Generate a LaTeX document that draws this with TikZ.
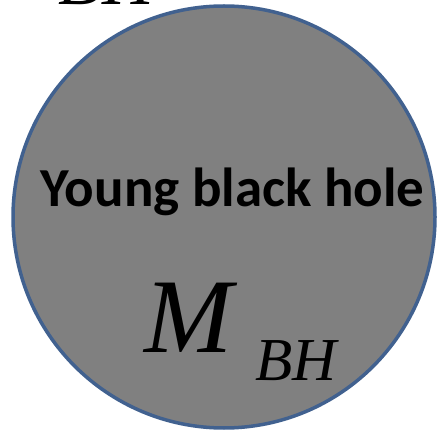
\documentclass[tikz,border=0pt]{standalone}
\usepackage{fontspec}
\setmainfont{Liberation Serif}
\newfontfamily\carl{Carlito}
\definecolor{rim}{HTML}{41618F}
\definecolor{fillg}{HTML}{808080}
\begin{document}
\begin{tikzpicture}[x=1pt,y=1pt,
  hole/.style={circle,draw=rim,line width=3.5pt,fill=fillg,minimum size=422pt,inner sep=0pt},
  lbl/.style={inner sep=0pt,anchor=base}]
\useasboundingbox (0,0) rectangle (441,431);
\clip (0,0) rectangle (441,431);
\node[hole] (bh) at (224,214) {};
\node[lbl,font=\carl\bfseries\fontsize{55}{60}\selectfont] (title) at (232.5,224) {Young black hole};
\node[lbl,font=\itshape\fontsize{106}{120}\selectfont] (m) at (189,79) {M};
\node[lbl,font=\itshape\fontsize{61}{70}\selectfont] (sub) at (296,51) {BH};
\node[lbl,font=\itshape\fontsize{72}{80}\selectfont] (top) at (106,426) {BH};
\end{tikzpicture}
\end{document}
